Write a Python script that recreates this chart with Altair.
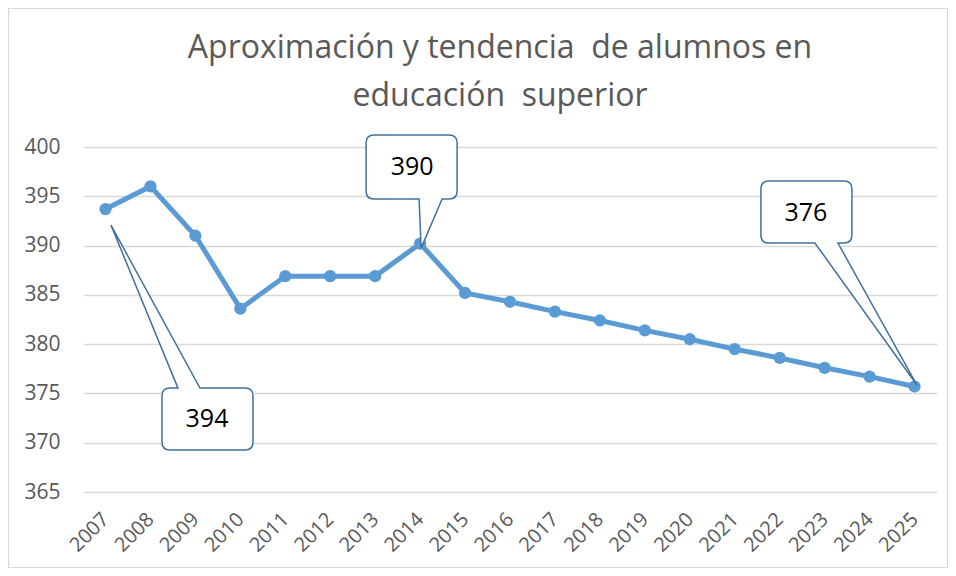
import altair as alt
import pandas as pd

# ---- data ----
years = [str(y) for y in range(2007, 2026)]
values = [393.7, 396.0, 391.0, 383.6, 386.9, 386.9, 386.9, 390.2, 385.2, 384.3,
          383.3, 382.4, 381.4, 380.5, 379.5, 378.6, 377.6, 376.7, 375.7]
y_ticks = [365, 370, 375, 380, 385, 390, 395, 400]
# double spaces kept visible with a no-break space (SVG collapses plain runs of spaces)
title_lines = ["Aproximación y tendencia\u00a0 de alumnos en", "educación\u00a0 superior"]
callout_years = ["2007", "2014", "2025"]

df = pd.DataFrame({"year": years, "value": values})
df["label"] = df["value"].round().astype(int).astype(str)

BLUE = "#5B9BD5"
CALLOUT = "#41719C"
GRAY = "#595959"
GRID = "#D9D9D9"
FONT = "Open Sans"

W, H = 854, 345
PAD = {"left": 75, "top": 139, "right": 11, "bottom": 76}


def f(v):
    return f"{v:.1f}"


def bubble_below(tip, L, R, T, B, b1, b2, r=8):
    tx, ty = tip
    return (f"M{f(tx)},{f(ty)}L{f(b2)},{f(T)}L{f(R-r)},{f(T)}Q{f(R)},{f(T)} {f(R)},{f(T+r)}"
            f"L{f(R)},{f(B-r)}Q{f(R)},{f(B)} {f(R-r)},{f(B)}L{f(L+r)},{f(B)}Q{f(L)},{f(B)} {f(L)},{f(B-r)}"
            f"L{f(L)},{f(T+r)}Q{f(L)},{f(T)} {f(L+r)},{f(T)}L{f(b1)},{f(T)}Z")


def bubble_above(tip, L, R, T, B, b1, b2, r=8):
    tx, ty = tip
    return (f"M{f(tx)},{f(ty)}L{f(b1)},{f(B)}L{f(L+r)},{f(B)}Q{f(L)},{f(B)} {f(L)},{f(B-r)}"
            f"L{f(L)},{f(T+r)}Q{f(L)},{f(T)} {f(L+r)},{f(T)}L{f(R-r)},{f(T)}Q{f(R)},{f(T)} {f(R)},{f(T+r)}"
            f"L{f(R)},{f(B-r)}Q{f(R)},{f(B)} {f(R-r)},{f(B)}L{f(b2)},{f(B)}Z")


# callout geometry (pixel offsets relative to the data point they point at)
callout_style = {
    "2007": dict(path=bubble_below((5.5, 16), 56.5, 147.5, 179, 241, 72.5, 94.5), dx=101.5, dy=210),
    "2014": dict(path=bubble_above((1, 4.5), -54, 37, -108.6, -44.6, -1, 22), dx=-8, dy=-76.6),
    "2025": dict(path=bubble_above((2.4, -1.5), -153.6, -62.6, -205.5, -143.5, -99.6, -76.6), dx=-108.6, dy=-173.5),
}

x_enc = alt.X(
    "year:O",
    scale=alt.Scale(type="point", padding=0.5),
    axis=alt.Axis(
        title=None, labelAngle=-45, labelAlign="right", labelBaseline="middle",
        labelFont=FONT, labelFontSize=20, labelColor=GRAY, labelPadding=24,
        domain=False, ticks=False, grid=False, labelOverlap=False,
    ),
)
y_enc = alt.Y(
    "value:Q",
    scale=alt.Scale(domain=[365, 400], nice=False, zero=False),
    axis=alt.Axis(
        title=None, values=y_ticks, labelFont=FONT, labelFontSize=21, labelColor=GRAY,
        labelPadding=23, domain=False, ticks=False, grid=True, gridColor=GRID, gridWidth=1.5,
    ),
)

base = alt.Chart(df).encode(x=x_enc, y=y_enc)

line = base.mark_line(color=BLUE, strokeWidth=5)
points = base.mark_circle(size=150, color=BLUE, opacity=1)

border = alt.Chart(alt.Data(values=[{}])).mark_rect(
    fillOpacity=0, stroke="#D9D9D9", strokeWidth=1.2
).encode(
    x=alt.value(-PAD["left"] + 0.5), x2=alt.value(W + PAD["right"] - 0.5),
    y=alt.value(-PAD["top"] + 0.5), y2=alt.value(H + PAD["bottom"] - 0.5),
)

layers = [border, line, points]
for yr in callout_years:
    st = callout_style[yr]
    sub = base.transform_filter(alt.datum.year == yr)
    layers.append(sub.mark_point(
        shape=st["path"], size=4, filled=True, fill="white", stroke=CALLOUT,
        strokeWidth=1.5, opacity=1,
    ))
    layers.append(sub.mark_text(
        font=FONT, fontSize=25, color="black", align="center", baseline="middle",
        dx=st["dx"], dy=st["dy"],
    ).encode(text="label:N"))

chart = alt.layer(*layers).properties(
    width=W, height=H, padding=PAD, autosize=alt.AutoSizeParams(type="none"),
    title=alt.TitleParams(
        text=title_lines, font=FONT, fontSize=32, fontWeight="normal", color=GRAY,
        anchor="middle", offset=-105, lineHeight=48, dx=-10,
    ),
).configure_view(stroke=None)

chart.save("out.html", embed_options={"renderer": "svg", "actions": False})
